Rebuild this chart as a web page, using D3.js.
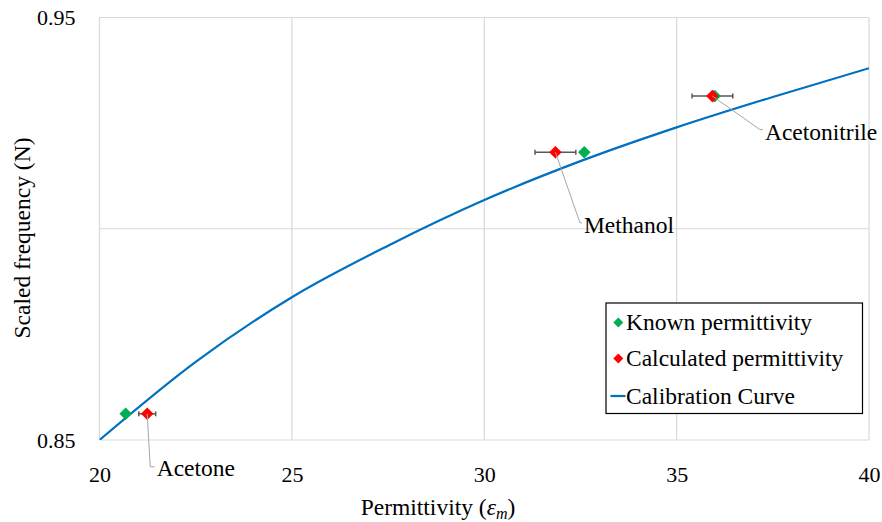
<!DOCTYPE html>
<html>
<head>
<meta charset="utf-8">
<script src="https://cdn.jsdelivr.net/npm/d3@7"></script>
</head>
<body style="margin:0">
<svg id="chart" width="882" height="522">
<text id="ytitle" transform="translate(30,238) rotate(-90)" text-anchor="middle" style="font-family:'Liberation Serif';font-size:23.5px">Scaled frequency (N)</text>
<text id="xtitle" x="438" y="515" text-anchor="middle" style="font-family:'Liberation Serif';font-size:23.5px">Permittivity (<tspan style="font-family:'Liberation Serif';font-style:italic">ε</tspan><tspan dy="4" style="font-family:'Liberation Serif';font-style:italic;font-size:16px">m</tspan><tspan dy="-4">)</tspan></text>
</svg>
<script>
// ---- data ----
const curveX = [20, 22.5, 25, 27.5, 30, 32.5, 35, 37.5, 40];
const curveY = [0.850, 0.8685, 0.8838, 0.8960, 0.9068, 0.9160, 0.9240, 0.9312, 0.9380];

const solvents = ["Acetone", "Methanol", "Acetonitrile"];
const knownX = [20.68, 32.60, 35.99];
const calcX = [21.24, 31.85, 35.93];
const pointY = [0.8562, 0.9181, 0.9314];
const calcErr = [0.22, 0.53, 0.53];

const xTicks = [20, 25, 30, 35, 40];
const yTicks = [0.85, 0.90, 0.95];
const yTickLabels = ["0.85", "", "0.95"];

const legendLabels = ["Known permittivity", "Calculated permittivity", "Calibration Curve"];

// ---- layout ----
const FONT = "font-family:'Liberation Serif';";
const svg = d3.select("#chart");
const x = d3.scaleLinear().domain([20, 40]).range([99.5, 869]);
const y = d3.scaleLinear().domain([0.85, 0.95]).range([440, 17.5]);

const colKnown = "#00B050", colCalc = "#FF0000", colCurve = "#0070C0";
const gridCol = "#D9D9D9";

// gridlines
const g = svg.insert("g", ":first-child");
g.selectAll("line.vx").data(xTicks).enter().append("line")
  .attr("x1", d => x(d)).attr("x2", d => x(d))
  .attr("y1", y(0.95)).attr("y2", y(0.85))
  .attr("stroke", gridCol).attr("stroke-width", 1.2);
g.selectAll("line.hy").data(yTicks).enter().append("line")
  .attr("x1", x(20)).attr("x2", x(40))
  .attr("y1", d => y(d)).attr("y2", d => y(d))
  .attr("stroke", gridCol).attr("stroke-width", 1.2);

// axes (labels via d3 axes)
const xAxis = d3.axisBottom(x).tickValues(xTicks).tickSize(0).tickPadding(26).tickFormat(d3.format("d"));
const gx = svg.append("g").attr("transform", `translate(0,${y(0.85)})`).call(xAxis);
gx.attr("font-family", null).attr("font-size", null);
gx.select(".domain").remove();
gx.selectAll("text").attr("style", FONT + "font-size:22px").attr("fill", "#000");

const yAxis = d3.axisLeft(y).tickValues(yTicks).tickSize(0).tickPadding(24)
  .tickFormat((d, i) => yTickLabels[i]);
const gy = svg.append("g").attr("transform", `translate(${x(20)},0)`).call(yAxis);
gy.attr("font-family", null).attr("font-size", null);
gy.select(".domain").remove();
gy.selectAll("text").attr("style", FONT + "font-size:22px").attr("fill", "#000");

// calibration curve
svg.append("clipPath").attr("id", "clip").append("rect")
  .attr("x", x(20)).attr("y", y(0.95)).attr("width", x(40) - x(20)).attr("height", y(0.85) - y(0.95));
const line = d3.line().x(d => x(d[0])).y(d => y(d[1])).curve(d3.curveMonotoneX);
svg.append("path")
  .datum(curveX.map((v, i) => [v, curveY[i]]))
  .attr("d", line)
  .attr("fill", "none").attr("stroke", colCurve).attr("stroke-width", 2.2)
  .attr("clip-path", "url(#clip)");

// error bars
const errCol = "#595959";
const eb = svg.append("g");
solvents.forEach((s, i) => {
  const x0 = x(calcX[i] - calcErr[i]), x1 = x(calcX[i] + calcErr[i]), yy = y(pointY[i]);
  eb.append("line").attr("x1", x0).attr("x2", x1).attr("y1", yy).attr("y2", yy)
    .attr("stroke", errCol).attr("stroke-width", 1.5);
  [x0, x1].forEach(xx => eb.append("line").attr("x1", xx).attr("x2", xx)
    .attr("y1", yy - 2.5).attr("y2", yy + 2.5).attr("stroke", errCol).attr("stroke-width", 1.5));
});

const diamond = r => `M0,${-r}L${r},0L0,${r}L${-r},0Z`;

// known points
svg.append("g").selectAll("path").data(solvents).enter().append("path")
  .attr("d", diamond(6.3))
  .attr("transform", (d, i) => `translate(${x(knownX[i])},${y(pointY[i])})`)
  .attr("fill", colKnown);

// calculated points
svg.append("g").selectAll("path").data(solvents).enter().append("path")
  .attr("d", diamond(6.3))
  .attr("transform", (d, i) => `translate(${x(calcX[i])},${y(pointY[i])})`)
  .attr("fill", colCalc);

// data labels with leader lines
const labelOffsets = [
  { tx: 9.5, ty: 62, lx: 3, ly: 53 },
  { tx: 28.5, ty: 80.5, lx: 24.5, ly: 70.5 },
  { tx: 52.5, ty: 43.5, lx: 47.5, ly: 33.5 }
];
solvents.forEach((s, i) => {
  const px = x(calcX[i]), py = y(pointY[i]);
  const o = labelOffsets[i];
  svg.append("polyline")
    .attr("points", `${px},${py} ${px + o.lx},${py + o.ly} ${px + o.tx - 2},${py + o.ly}`)
    .attr("fill", "none").attr("stroke", "#A6A6A6").attr("stroke-width", 1);
  svg.append("text").attr("x", px + o.tx).attr("y", py + o.ty)
    .attr("style", FONT + "font-size:23.5px").text(s);
});

// legend
const lg = svg.append("g");
lg.append("rect").attr("x", 606).attr("y", 303).attr("width", 256.5).attr("height", 110.5)
  .attr("fill", "#fff").attr("stroke", "#000").attr("stroke-width", 1.2);
const rowY = [322.5, 358.5, 396];
lg.append("path").attr("d", diamond(5)).attr("transform", `translate(618.3,${rowY[0]})`).attr("fill", colKnown);
lg.append("path").attr("d", diamond(5)).attr("transform", `translate(618.3,${rowY[1]})`).attr("fill", colCalc);
lg.append("line").attr("x1", 610.5).attr("x2", 625.5).attr("y1", rowY[2]).attr("y2", rowY[2])
  .attr("stroke", colCurve).attr("stroke-width", 2.2);
legendLabels.forEach((t, i) => {
  lg.append("text").attr("x", 626).attr("y", rowY[i] + 7.5)
    .attr("style", FONT + "font-size:23.5px").text(t);
});
</script>
</body>
</html>
